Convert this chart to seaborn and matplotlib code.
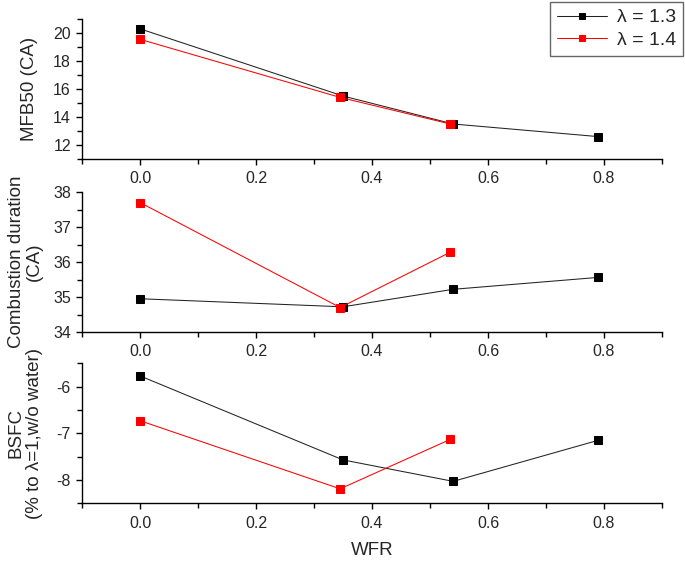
import matplotlib; matplotlib.use('Agg')
import matplotlib.pyplot as plt
from matplotlib.ticker import MultipleLocator
import seaborn as sns

sns.set_style('ticks')
plt.rcParams['font.family'] = ['Liberation Sans', 'DejaVu Sans']
plt.rcParams['axes.unicode_minus'] = False

# data
wfr_13 = [0.0, 0.35, 0.54, 0.79]
wfr_14 = [0.0, 0.345, 0.535]
mfb50_13 = [20.3, 15.5, 13.5, 12.6]
mfb50_14 = [19.55, 15.4, 13.5]
dur_13 = [34.95, 34.72, 35.22, 35.56]
dur_14 = [37.7, 34.7, 36.28]
bsfc_13 = [-5.77, -7.57, -8.03, -7.15]
bsfc_14 = [-6.73, -8.19, -7.13]

series_labels = ['λ = 1.3', 'λ = 1.4']
ylabels = ['MFB50 (CA)', 'Combustion duration\n(CA)', 'BSFC\n(% to λ=1,w/o water)']
ylims = [(11, 21), (34, 38), (-8.5, -5.5)]
ymajor = [2, 1, 1]

panels = [(mfb50_13, mfb50_14), (dur_13, dur_14), (bsfc_13, bsfc_14)]

fig = plt.figure(figsize=(6.85, 5.62), dpi=100)
left, width, height = 82/685, 580/685, 140/562
bottoms = [1 - 159/562, 1 - 332/562, 1 - 503.3/562]
label_x = [-0.076, -0.067, -0.067]

axes = []
for i, (y13, y14) in enumerate(panels):
    ax = fig.add_axes([left, bottoms[i], width, height])
    sns.lineplot(x=wfr_13, y=y13, ax=ax, color='#222222', lw=0.75, marker='s',
                 markersize=6.2, markerfacecolor='black', markeredgecolor='black',
                 label=series_labels[0])
    sns.lineplot(x=wfr_14, y=y14, ax=ax, color='red', lw=0.75, marker='s',
                 markersize=6.2, markeredgecolor='red', label=series_labels[1])
    if ax.get_legend() is not None:
        ax.get_legend().remove()
    ax.set_xlim(-0.1, 0.9)
    ax.set_ylim(*ylims[i])
    ax.xaxis.set_major_locator(MultipleLocator(0.2))
    ax.xaxis.set_minor_locator(MultipleLocator(0.1))
    ax.yaxis.set_major_locator(MultipleLocator(ymajor[i]))
    ax.yaxis.set_minor_locator(MultipleLocator(ymajor[i] / 2))
    ax.xaxis.set_major_formatter(plt.FormatStrFormatter('%.1f'))
    sns.despine(ax=ax)
    for s in ['left', 'bottom']:
        ax.spines[s].set_linewidth(1.0)
        ax.spines[s].set_color('black')
    ax.tick_params(which='major', direction='out', length=4, width=1, labelsize=11.5, pad=4, color='black')
    ax.tick_params(which='minor', direction='out', length=3.5, width=1, color='black')
    ax.tick_params(axis='x', pad=5)
    ax.set_ylabel(ylabels[i], fontsize=13.5, linespacing=1.1)
    ax.yaxis.set_label_coords(label_x[i], 0.5)
    ax.set_xlabel('')
    axes.append(ax)

axes[-1].set_xlabel('WFR', fontsize=13.5, labelpad=8)

handles, labels = axes[0].get_legend_handles_labels()
leg = fig.legend(handles, labels, loc='upper right', bbox_to_anchor=(683/685, 1 - 2/562),
                 fontsize=14, frameon=True, fancybox=False, handlelength=2.6,
                 markerscale=0.8, borderpad=0.35, labelspacing=0.25, handletextpad=0.5,
                 borderaxespad=0)
leg.get_frame().set_edgecolor('#404040')
leg.get_frame().set_linewidth(1.0)

plt.savefig('out.png', dpi=100)
